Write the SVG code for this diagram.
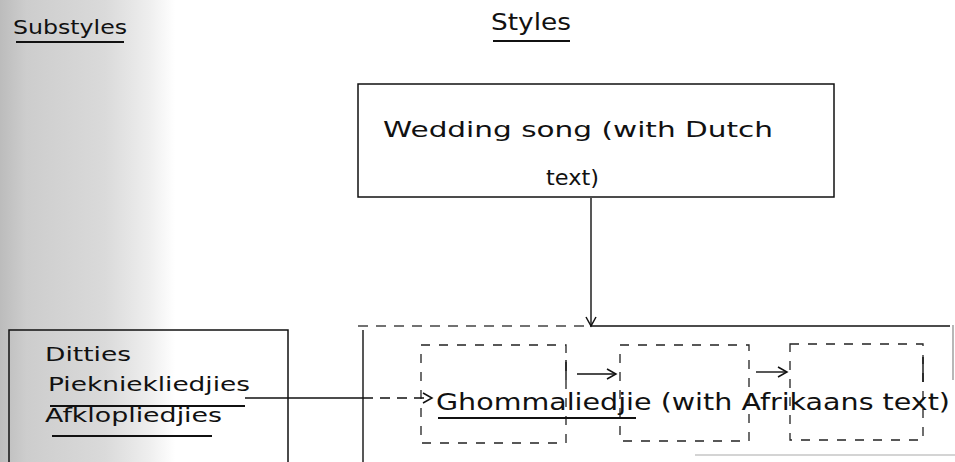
<svg xmlns="http://www.w3.org/2000/svg" width="955" height="462" viewBox="0 0 955 462">
<style>
.t{font-family:"DejaVu Sans","Liberation Sans",sans-serif;fill:#111}
.box{fill:none;stroke:#111;stroke-width:1.5}
.dash{fill:none;stroke:#222;stroke-width:1.3;stroke-dasharray:9 9}
.ln{stroke:#111;stroke-width:1.4;fill:none}
.ul{stroke:#111;stroke-width:2}
</style>
<defs>
<linearGradient id="scan" x1="0" y1="0" x2="1" y2="0">
<stop offset="0" stop-color="#bcbcbc"/>
<stop offset="0.15" stop-color="#cdcdcd"/>
<stop offset="0.6" stop-color="#dadada"/>
<stop offset="0.85" stop-color="#eeeeee"/>
<stop offset="1" stop-color="#ffffff"/>
</linearGradient>
<marker id="ah" markerWidth="12" markerHeight="12" refX="10" refY="6" orient="auto" markerUnits="userSpaceOnUse">
<path d="M1,1 L10,6 L1,11" fill="none" stroke="#111" stroke-width="1.5"/>
</marker>
</defs>
<rect width="955" height="462" fill="#fff"/>
<rect x="0" y="0" width="175" height="462" fill="url(#scan)"/>

<g id="header-substyles">
<text class="t" x="13" y="34" font-size="20" textLength="114" lengthAdjust="spacingAndGlyphs">Substyles</text>
<line class="ul" x1="16" y1="42" x2="124" y2="42"/>
</g>
<g id="header-styles">
<text class="t" x="491" y="30" font-size="23" textLength="80" lengthAdjust="spacingAndGlyphs">Styles</text>
<line class="ul" x1="493" y1="41" x2="570" y2="41"/>
</g>

<g id="wedding-song">
<rect class="box" x="358" y="84" width="476" height="113"/>
<text class="t" x="383" y="137" font-size="22" textLength="390" lengthAdjust="spacingAndGlyphs">Wedding song (with Dutch</text>
<text class="t" x="546" y="185" font-size="22" textLength="53" lengthAdjust="spacingAndGlyphs">text)</text>
</g>

<g id="substyles-box">
<path class="box" d="M9,462 V330 H288 V462"/>
<text class="t" x="45" y="361" font-size="20" textLength="86" lengthAdjust="spacingAndGlyphs">Ditties</text>
<text class="t" x="48" y="391" font-size="20" textLength="202" lengthAdjust="spacingAndGlyphs">Piekniekliedjies</text>
<line class="ul" x1="50" y1="406" x2="245" y2="406"/>
<text class="t" x="45" y="422" font-size="20" textLength="177" lengthAdjust="spacingAndGlyphs">Afklopliedjies</text>
<line class="ul" x1="52" y1="436" x2="212" y2="436"/>
</g>

<g id="ghommaliedjie">
<path d="M358,326 H590" fill="none" stroke="#444" stroke-width="1.3" stroke-dasharray="10 8"/>
<path class="ln" d="M590,326 H950"/>
<path class="ln" d="M363,330 V462"/>
<path d="M953,325 V380" stroke="#888" stroke-width="1.2"/>
<path d="M695,455 H955" stroke="#aaa" stroke-width="1.2"/>
<rect class="dash" x="421" y="345" width="145" height="98"/>
<rect class="dash" x="620" y="345" width="129" height="96"/>
<rect class="dash" x="790" y="344" width="133" height="96"/>
<path class="ln" d="M566,360 V380"/>
<path class="ln" d="M923,357 V382"/>
<text class="t" x="436" y="410" font-size="23" textLength="514" lengthAdjust="spacingAndGlyphs">Ghommaliedjie (with Afrikaans text)</text>
<line class="ul" x1="438" y1="418" x2="636" y2="418"/>
</g>

<g id="connectors">
<line class="ln" x1="591" y1="198" x2="591" y2="326" marker-end="url(#ah)"/>
<path class="ln" d="M245,398 H363"/>
<path class="ln" d="M363,398 H432" stroke-dasharray="10 7" marker-end="url(#ah)"/>
<line class="ln" x1="577" y1="374" x2="616" y2="374" marker-end="url(#ah)"/>
<line class="ln" x1="756" y1="372" x2="787" y2="372" marker-end="url(#ah)"/>
</g>
</svg>
